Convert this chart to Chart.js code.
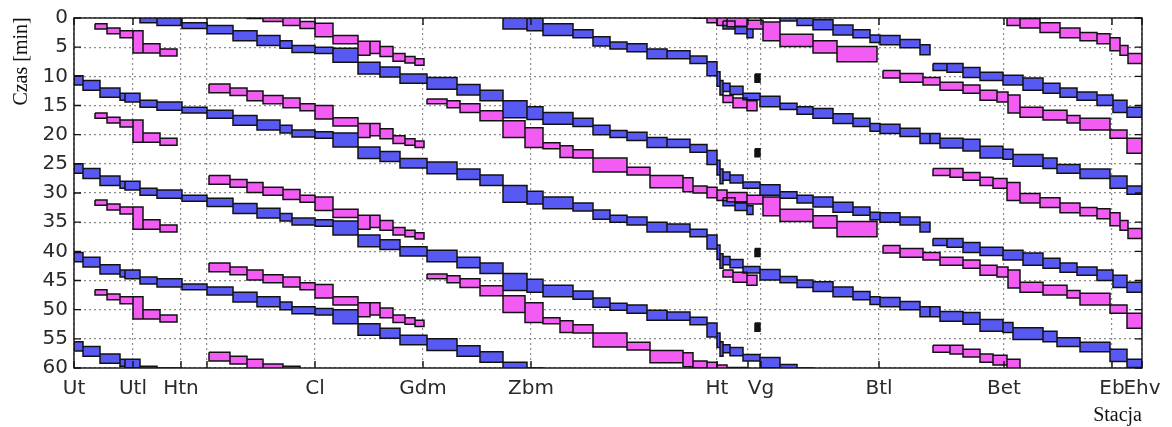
<!DOCTYPE html>
<html><head><meta charset="utf-8">
<script src="https://cdn.jsdelivr.net/npm/chart.js@4.4.1/dist/chart.umd.min.js"></script>
<style>html,body{margin:0;padding:0;background:#fff;}#wrap{width:1172px;height:427px;}</style>
</head><body><div id="wrap"><canvas id="c" width="1172" height="427"></canvas></div>
<script>
// ---- axis data ----
const stationNames = ['Ut','Utl','Htn','','Cl','Gdm','Zbm','Ht','','Vg','Btl','Bet','Eb','Ehv'];
const stationKm    = [0, 5.9, 10.7, 13.3, 24.1, 34.9, 45.7, 64.3, 67.4, 68.7, 80.5, 93.0, 103.8, 106.8];
const timeTicks    = [0,5,10,15,20,25,30,35,40,45,50,55,60];

// ---- blue through train (Ut -> Ehv), block edges [km], block start/end [min after departure] ----
const b1Edges = [0,0.9,2.6,4.6,5.1,6.6,8.3,10.8,13.3,15.9,18.3,20.6,21.8,24.1,25.9,28.4,30.6,32.6,35.3,38.3,40.6,42.9,45.3,46.9,49.9,51.9,53.6,55.3,57.3,59.3,61.6,63.3,64.3,64.6,64.9,65.6,66.9,68.6,70.6,72.3,73.9,75.9,77.9,79.6,80.6,82.6,84.6,85.6,86.6,88.9,90.6,92.9,93.9,96.9,98.3,100.6,103.6,105.3,106.8];
const b1Start = [0,0.8,2.1,3,3,4.2,4.5,5.4,5.9,6.8,7.6,8.5,9.3,9.6,9.8,12.2,13,14.2,14.8,16,17,18.8,19.8,20.8,21.8,23,23.9,24.2,25.1,25.4,26.3,27.3,29,30.5,31,31.5,32.7,33.2,34.4,35,35.3,36.2,37,37.9,38,38.7,39.6,39.6,40.4,40.6,41.8,42.3,43.2,43.8,44.9,45.7,46.9,48.6];
const b1End   = [1.6,2.5,3.7,4.2,4.5,5.4,5.9,6.4,7.3,8.5,9.3,9.8,10.5,10.7,12.2,14.2,14.7,15.8,16.8,17.8,18.8,21.7,22,22.8,23.2,24.6,25.1,25.6,26.8,26.8,27.6,29.7,31.5,33,32.4,32.9,33.8,35,35.5,36.3,37,37.9,38.4,39.2,39.6,40.1,41.3,41.3,42.1,42.6,43.8,44,45.2,45.6,46.4,47.3,49,50];
const b1DepFull  = [-19.8, 9.9, 40.2];      // run to Ehv
const b1DepShort = [-35, -4.6, 25, 55.5];   // leave the line after Btl
const b1ShortBlocks = 47;

// ---- blue train entering after Btl ----
const b2Edges = [85.9,87.3,88.9,90.6,92.9,94.9,96.9,98.6,100.3,102.3,103.9,105.3,106.8];
const b2Start = [0,0,0.7,1.5,2,2.5,3.4,4.2,4.9,5.4,6.3,7.5];
const b2End   = [1.2,1.5,2.4,2.9,3.7,4.6,5.1,5.8,6.3,7.2,8.4,9.2];
const b2Dep   = [7.8, 37.8];

// ---- short blue between Ht and Vg ----
const b3Edges = [64.9,66.1,67.3,67.9];
const b3Start = [0,0.9,1.4];
const b3End   = [1.4,2.2,2.9];
const b3Dep   = [0.5, 30.8];

// ---- magenta Ut -> Htn ----
const m1Edges = [2.1,3.3,4.6,5.9,6.9,8.6,10.3];
const m1Start = [0,0.7,1.2,1.2,3.4,4.3];
const m1End   = [0.9,1.7,2.4,5,5,5.5];
const m1Dep   = [1.0, 16.3, 31.2, 46.6];

// ---- magenta Htn -> Gdm ----
const m2Edges = [13.5,15.6,17.3,18.9,20.9,22.6,24.1,25.9,28.4,29.6,30.6,31.9,33.1,34.1,35.0];
const m2Start = [0,0.7,1.2,2,2.4,3.4,3.7,5.8,6.8,6.8,7.7,8.9,9.4,9.8];
const m2End   = [1.5,2,2.9,3.4,4.1,4.6,6,7.2,9.2,8.9,9.4,10.2,10.5,10.9];
const m2Dep   = [-2.8, 11.3, 27.0, 42.0, 57.3];

// ---- magenta Gdm -> Ehv (two parts) ----
const m3Edges = [35.3,37.3,38.6,40.6,42.9,45.1,46.9,48.6,49.9,51.9,55.3,57.6,60.9,61.9,63.3,64.3,65.3,67.3,68.9,70.6,73.9,76.3,80.3];
const m3Start = [0,0.3,0.8,2,3.7,4.9,7.5,8,8.7,10.1,11.7,13.1,13.5,14.9,15.1,15.6,16,16.5,16.8,18.9,20,21];
const m3End   = [0.8,1.5,2.3,3.7,6.6,8.3,8.5,10,10.1,12.5,13,15.2,15.9,16.1,16.9,17.4,17.6,18,20,21,22.1,23.6];
const m4Edges = [80.9,82.6,84.9,86.6,88.9,90.6,92.3,93.4,94.6,96.9,99.3,100.6,103.6,105.3,106.8];
const m4Start = [25.1,25.6,26.3,27.1,27.6,28.5,28.8,29.3,31.4,31.9,32.8,33.3,35.3,36.7];
const m4End   = [26.4,27.1,27.6,28.5,29,30.2,30.5,32.4,33.1,33.6,34.1,35.3,36.7,39.3];
const m3Dep   = [-16.1, 13.9, 43.9];

// ---- short magenta between Ht and Vg ----
const m5Edges = [64.9,65.9,67.3,68.3];
const m5Start = [0,0.4,0.9];
const m5End   = [1.2,2.1,2.6];
const m5Dep   = [13.3, 43.2];

// ---- magenta entering after Btl ----
const m6Edges = [85.9,87.6,88.9,90.6,91.9,93.3,94.6,96.6,98.6,100.6,102.3,103.6,104.6,105.4,106.8];
const m6Start = [0,0,0.7,1.5,1.7,2.4,4.3,5,5.9,6.7,6.9,7.6,8.9,10.3];
const m6End   = [1.2,1.5,2,2.9,3.4,5.5,5.9,6.7,7.6,8.1,8.6,9.8,10.6,12];
const m6Dep   = [-4.2, 25.8, 56.1];

// ---- small black blocks at Vg ----
const kEdges = [68.1, 68.6];
const kStart = [0];
const kEnd   = [1.4];
const kDep   = [9.6, 22.4, 39.5, 52.3];

const BLUE = '#5858f2', MAGENTA = '#f25cf2', BLACK = '#121212';

const datasets = [];
const outline = [];
function addTrain(edges, starts, ends, deps, color, blocks) {
  const n = blocks === undefined ? starts.length : blocks;
  deps.forEach(t0 => {
    const up = [], lo = [];
    for (let i = 0; i <= n; i++) {
      const j = Math.min(i, n - 1);
      up.push({x: edges[i], y: t0 + starts[j]});
      lo.push({x: edges[i], y: t0 + ends[j]});
    }
    datasets.push({data: up, borderWidth: 0, fill: false, stepped: true, backgroundColor: color, pointRadius: 0});
    datasets.push({data: lo, borderWidth: 0, fill: '-1', stepped: true, backgroundColor: color, pointRadius: 0});
    for (let i = 0; i < n; i++) {
      const a = edges[i], b = edges[i + 1], s = t0 + starts[i], e = t0 + ends[i];
      outline.push({x: a, y: s}, {x: b, y: s}, {x: b, y: e}, {x: a, y: e}, {x: a, y: s}, {x: a, y: null});
    }
  });
}
addTrain(b1Edges, b1Start, b1End, b1DepFull, BLUE);
addTrain(b1Edges, b1Start, b1End, b1DepShort, BLUE, b1ShortBlocks);
addTrain(b2Edges, b2Start, b2End, b2Dep, BLUE);
addTrain(m1Edges, m1Start, m1End, m1Dep, MAGENTA);
addTrain(m2Edges, m2Start, m2End, m2Dep, MAGENTA);
addTrain(m3Edges, m3Start, m3End, m3Dep, MAGENTA);
addTrain(m4Edges, m4Start, m4End, m3Dep, MAGENTA);
addTrain(m6Edges, m6Start, m6End, m6Dep, MAGENTA);
addTrain(m5Edges, m5Start, m5End, m5Dep, MAGENTA);
addTrain(b3Edges, b3Start, b3End, b3Dep, BLUE);
addTrain(kEdges, kStart, kEnd, kDep, BLACK);
datasets.push({data: outline, borderColor: BLACK, borderWidth: 1.5, fill: false, spanGaps: false,
  pointRadius: 0, order: -1, tension: 0});

const framePlugin = {
  id: 'frame',
  afterDatasetsDraw(chart) {
    const {ctx, chartArea: a, scales: {x, y}} = chart;
    ctx.save();
    ctx.strokeStyle = '#111';
    ctx.lineWidth = 1.4;
    ctx.strokeRect(a.left, a.top, a.right - a.left, a.bottom - a.top);
    ctx.beginPath();
    x.ticks.forEach(t => {
      const px = x.getPixelForValue(t.value);
      ctx.moveTo(px, a.bottom); ctx.lineTo(px, a.bottom - 7);
      ctx.moveTo(px, a.top); ctx.lineTo(px, a.top + 7);
    });
    y.ticks.forEach(t => {
      const py = y.getPixelForValue(t.value);
      ctx.moveTo(a.left, py); ctx.lineTo(a.left + 7, py);
      ctx.moveTo(a.right, py); ctx.lineTo(a.right - 7, py);
    });
    ctx.stroke();
    ctx.restore();
  }
};

new Chart(document.getElementById('c'), {
  type: 'line',
  data: {datasets},
  options: {
    responsive: false,
    animation: false,
    devicePixelRatio: 1,
    events: [],
    layout: {padding: {left: 0, right: 30, top: 17.3, bottom: 0}},
    elements: {point: {radius: 0, hitRadius: 0}, line: {tension: 0}},
    plugins: {
      legend: {display: false},
      tooltip: {enabled: false},
      title: {display: true, text: 'Czas [min]', position: 'left', align: 'end',
        font: {family: 'Liberation Serif', size: 20, weight: 'normal', lineHeight: 1.2},
        color: '#111', padding: {top: 10, bottom: 0}}
    },
    scales: {
      x: {
        type: 'linear', min: 0, max: 106.8,
        afterBuildTicks: s => { s.ticks = stationKm.map(v => ({value: v})); },
        afterFit: s => { s.height = 59; },
        ticks: {autoSkip: false, maxRotation: 0, minRotation: 0, padding: 9, color: '#2a2a2a',
          font: {family: 'DejaVu Sans', size: 20},
          callback: (v, i) => stationNames[i]},
        grid: {color: '#8c8c8c', lineWidth: 1.2, drawTicks: false},
        border: {display: false, dash: [2, 3]},
        title: {display: true, text: 'Stacja', align: 'end', color: '#111',
          font: {family: 'Liberation Serif', size: 20}, padding: {top: 0, bottom: -1}}
      },
      y: {
        type: 'linear', min: 0, max: 60, reverse: true,
        afterBuildTicks: s => { s.ticks = timeTicks.map(v => ({value: v})); },
        afterFit: s => { s.width = 40; },
        ticks: {padding: 6, color: '#2a2a2a', font: {family: 'DejaVu Sans', size: 20}},
        grid: {color: '#8c8c8c', lineWidth: 1.2, drawTicks: false},
        border: {display: false, dash: [2, 3]}
      }
    }
  },
  plugins: [framePlugin]
});
</script>
</body></html>
